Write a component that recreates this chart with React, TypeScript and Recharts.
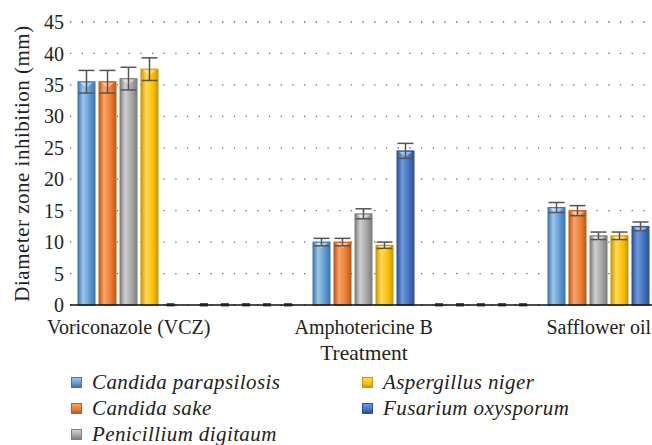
import React from "react";
import { BarChart, Bar, XAxis, YAxis, CartesianGrid, ErrorBar } from "recharts";

// every other category is an empty slot in the original chart (shows as flat dashes)
const categories = ["Voriconazole (VCZ)", "", "Amphotericine B", "", "Safflower oil", ""];

const candidaParapsilosis = [35.5, 0, 10, 0, 15.5, 0];
const candidaSake = [35.5, 0, 10, 0, 15, 0];
const penicilliumDigitaum = [36, 0, 14.5, 0, 11, 0];
const aspergillusNiger = [37.5, 0, 9.5, 0, 11, 0];
const fusariumOxysporum = [0, 0, 24.5, 0, 12.5, 0];

const cpErr = [1.8, null, 0.6, null, 0.8, null];
const csErr = [1.8, null, 0.6, null, 0.8, null];
const pdErr = [1.8, null, 0.8, null, 0.6, null];
const anErr = [1.8, null, 0.5, null, 0.6, null];
const foErr = [null, null, 1.2, null, 0.7, null];

const yTicks = [0, 5, 10, 15, 20, 25, 30, 35, 40, 45];

const SERIES = [
  { key: "cp", name: "Candida parapsilosis", values: candidaParapsilosis, err: cpErr, base: "#5b9bd5", light: "#9fc6ea", dark: "#3f78ad" },
  { key: "cs", name: "Candida sake", values: candidaSake, err: csErr, base: "#ed7d31", light: "#f7a66c", dark: "#c15a14" },
  { key: "pd", name: "Penicillium digitaum", values: penicilliumDigitaum, err: pdErr, base: "#a5a5a5", light: "#cfcfcf", dark: "#7f7f7f" },
  { key: "an", name: "Aspergillus niger", values: aspergillusNiger, err: anErr, base: "#ffc000", light: "#ffd95a", dark: "#cc9a00" },
  { key: "fo", name: "Fusarium oxysporum", values: fusariumOxysporum, err: foErr, base: "#4472c4", light: "#7397d8", dark: "#2c5299" },
];

const data = categories.map((c, i) => {
  const row: Record<string, any> = { name: c };
  SERIES.forEach((s) => {
    row[s.key] = s.values[i];
    row[s.key + "Err"] = s.err[i];
  });
  return row;
});

const FONT = '"Liberation Serif", serif';

function makeShape(s: (typeof SERIES)[number]) {
  return (props: any) => {
    const { x, y, width, height } = props;
    if (!height || height < 1) {
      return <rect x={x + width / 2 - 4} y={y - 2} width={8} height={3.5} fill="#555" />;
    }
    const id = `grad-${s.key}`;
    return (
      <g>
        <defs>
          <linearGradient id={id} x1="0" y1="0" x2="1" y2="0">
            <stop offset="0%" stopColor={s.dark} />
            <stop offset="30%" stopColor={s.light} />
            <stop offset="70%" stopColor={s.base} />
            <stop offset="100%" stopColor={s.dark} />
          </linearGradient>
        </defs>
        <rect x={x} y={y} width={width} height={height} fill={`url(#${id})`} stroke={s.dark} strokeWidth={1} />
        <polygon
          points={`${x + 2},${y + 1} ${x + width - 2},${y + 1} ${x + width / 2},${y + 6}`}
          fill="#ffffff"
          opacity={0.45}
        />
      </g>
    );
  };
}

function CategoryTick(props: any) {
  const { x, y, payload } = props;
  return (
    <text x={x} y={y + 21} textAnchor="middle" fill="#222" fontSize={20} fontFamily={FONT}>
      {payload.value}
    </text>
  );
}

function LegendMark({ s }: { s: (typeof SERIES)[number] }) {
  return (
    <span
      style={{
        display: "inline-block",
        width: 9,
        height: 9,
        marginRight: 10,
        border: `1px solid ${s.dark}`,
        background: `linear-gradient(to bottom, ${s.light}, ${s.base} 60%, ${s.dark})`,
      }}
    />
  );
}

export default function App() {
  const col1 = [SERIES[0], SERIES[1], SERIES[2]];
  const col2 = [SERIES[3], SERIES[4]];
  const legendItem = (s: (typeof SERIES)[number]) => (
    <div
      key={s.key}
      style={{ height: 26, display: "flex", alignItems: "center", fontStyle: "italic", fontSize: 21, letterSpacing: 0.4, color: "#222" }}
    >
      <LegendMark s={s} />
      {s.name}
    </div>
  );

  return (
    <div
      style={{
        position: "absolute",
        left: 0,
        top: 0,
        width: 652,
        height: 445,
        overflow: "hidden",
        background: "#fff",
        fontFamily: FONT,
      }}
    >
      <BarChart
        width={780}
        height={445}
        data={data}
        margin={{ top: 22, right: 5, bottom: 110, left: 10 }}
        barSize={17}
        barGap={4}
      >
        <CartesianGrid vertical={false} stroke="#666" strokeWidth={1.3} strokeDasharray="1.3 10.4" />
        <XAxis
          dataKey="name"
          height={30}
          axisLine={{ stroke: "#111", strokeWidth: 1.5 }}
          tickLine={false}
          interval={0}
          tick={<CategoryTick />}
        />
        <YAxis
          width={60}
          domain={[0, 45]}
          ticks={yTicks}
          axisLine={false}
          tickLine={false}
          tick={{ fill: "#222", fontSize: 20, fontFamily: FONT }}
          tickMargin={0}
          label={{
            value: "Diameter zone inhibition (mm)",
            angle: -90,
            position: "insideLeft",
            offset: 12,
            style: { textAnchor: "middle", fill: "#222", fontSize: 21, letterSpacing: 0.5, fontFamily: FONT },
          }}
        />
        {SERIES.map((s) => (
          <Bar key={s.key} dataKey={s.key} name={s.name} fill={s.base} shape={makeShape(s)} isAnimationActive={false}>
            <ErrorBar dataKey={s.key + "Err"} width={8} stroke="#555" strokeWidth={1.5} direction="y" />
          </Bar>
        ))}
      </BarChart>
      <div style={{ position: "absolute", left: 364, top: 341, transform: "translateX(-50%)", fontSize: 21.5, color: "#222", whiteSpace: "nowrap" }}>
        Treatment
      </div>
      <div style={{ position: "absolute", left: 71, top: 369 }}>{col1.map(legendItem)}</div>
      <div style={{ position: "absolute", left: 362, top: 369 }}>{col2.map(legendItem)}</div>
    </div>
  );
}
